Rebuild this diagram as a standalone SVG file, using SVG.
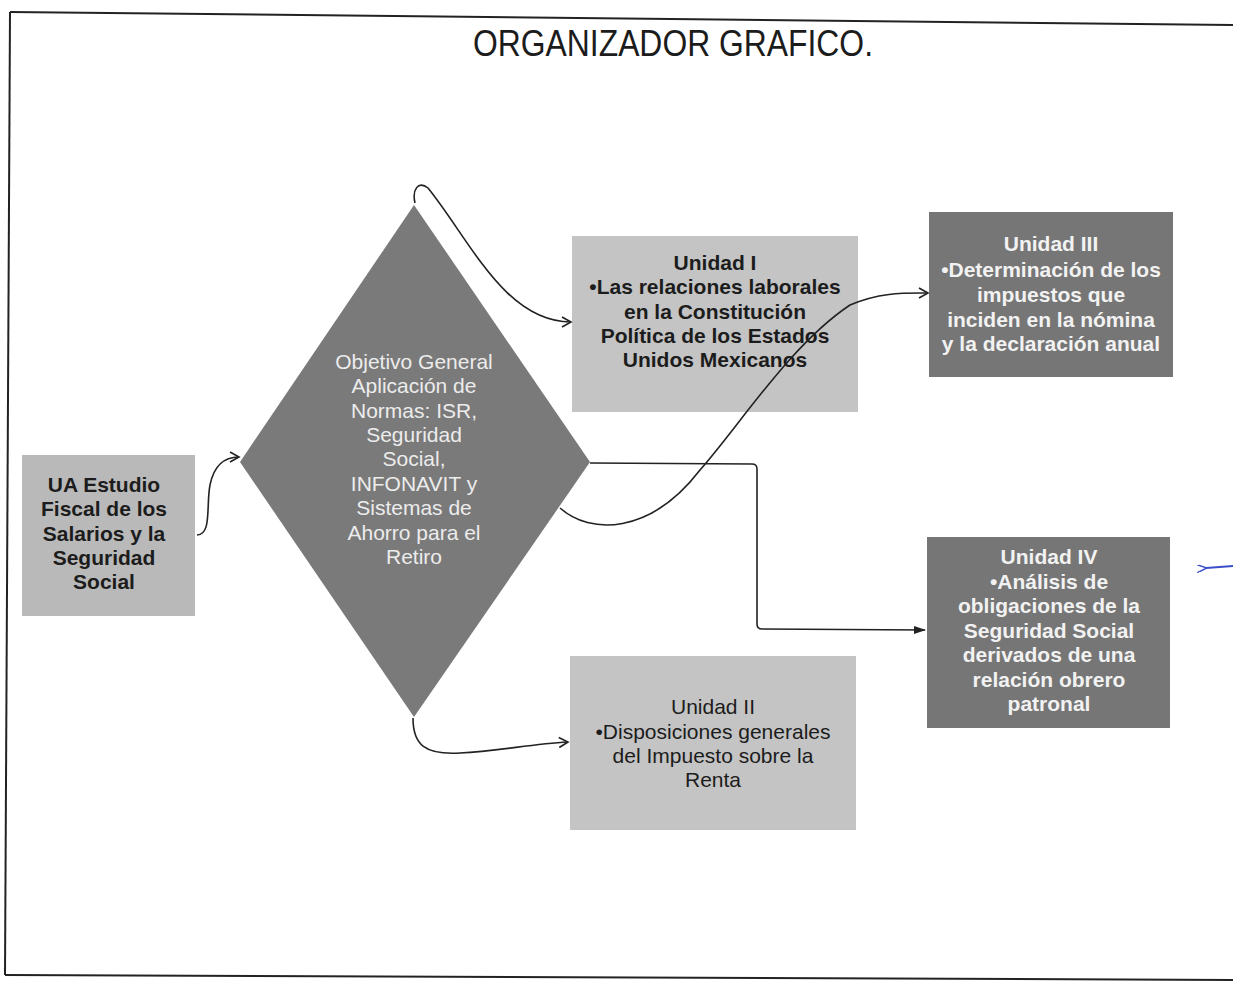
<svg xmlns="http://www.w3.org/2000/svg" width="1233" height="988" viewBox="0 0 1233 988">
<defs>
<style>
.light{fill:#c4c4c4}
.dark{fill:#767676}
.bt{font-family:"Liberation Sans",Arial,sans-serif;font-size:21px;font-weight:bold;text-anchor:middle;fill:#1c1c1c}
.wt{font-family:"Liberation Sans",Arial,sans-serif;font-size:21px;font-weight:bold;text-anchor:middle;fill:#f2f2f2}
.rt{font-family:"Liberation Sans",Arial,sans-serif;font-size:21px;text-anchor:middle;fill:#1c1c1c}
.dt{font-family:"Liberation Sans",Arial,sans-serif;font-size:21px;text-anchor:middle;fill:#ececec}
.conn{fill:none;stroke:#222;stroke-width:1.6}
</style>
<marker id="open" viewBox="0 0 12 12" refX="10" refY="6" markerWidth="12" markerHeight="12" markerUnits="userSpaceOnUse" orient="auto">
<path d="M1,1 L10,6 L1,11" fill="none" stroke="#222" stroke-width="1.6"/>
</marker>
<marker id="filled" viewBox="0 0 12 10" refX="11" refY="5" markerWidth="12" markerHeight="10" markerUnits="userSpaceOnUse" orient="auto">
<path d="M0,1 L12,5 L0,9 Z" fill="#222"/>
</marker>
<marker id="blue" viewBox="0 0 10 8" refX="1" refY="4" markerWidth="10" markerHeight="8" markerUnits="userSpaceOnUse" orient="auto">
<path d="M10,0 L0,4 L10,8" fill="none" stroke="#3a4fc8" stroke-width="1.5"/>
</marker>
</defs>
<rect width="1233" height="988" fill="#ffffff"/>
<g id="frame" fill="none" stroke="#222" stroke-width="2">
<path d="M10,12 L1233,25"/>
<path d="M10,12 L5,975"/>
<path d="M5,975 L1233,980"/>
</g>
<text id="title" x="673" y="56" font-family="'Liberation Sans',Arial,sans-serif" font-size="36" text-anchor="middle" fill="#1c1c1c" textLength="400" lengthAdjust="spacingAndGlyphs">ORGANIZADOR GRAFICO.</text>
<g id="ua">
<rect x="22" y="455" width="173" height="161" fill="#b9b9b9"/>
<text class="bt"><tspan x="104" y="492">UA Estudio</tspan><tspan x="104" y="516">Fiscal de los</tspan><tspan x="104" y="541">Salarios y la</tspan><tspan x="104" y="565">Seguridad</tspan><tspan x="104" y="589">Social</tspan></text>
</g>
<g id="objetivo">
<polygon points="414,205 590,462 414,717 240,462" fill="#7a7a7a"/>
<text class="dt"><tspan x="414" y="369">Objetivo General</tspan><tspan x="414" y="393">Aplicación de</tspan><tspan x="414" y="418">Normas: ISR,</tspan><tspan x="414" y="442">Seguridad</tspan><tspan x="414" y="466">Social,</tspan><tspan x="414" y="491">INFONAVIT y</tspan><tspan x="414" y="515">Sistemas de</tspan><tspan x="414" y="540">Ahorro para el</tspan><tspan x="414" y="564">Retiro</tspan></text>
</g>
<g id="unidad1">
<rect class="light" x="572" y="236" width="286" height="176"/>
<text class="bt"><tspan x="715" y="270">Unidad I</tspan><tspan x="715" y="294">•Las relaciones laborales</tspan><tspan x="715" y="319">en la Constitución</tspan><tspan x="715" y="343">Política de los Estados</tspan><tspan x="715" y="367">Unidos Mexicanos</tspan></text>
</g>
<g id="unidad2">
<rect class="light" x="570" y="656" width="286" height="174"/>
<text class="rt"><tspan x="713" y="714">Unidad II</tspan><tspan x="713" y="739">•Disposiciones generales</tspan><tspan x="713" y="763">del Impuesto sobre la</tspan><tspan x="713" y="787">Renta</tspan></text>
</g>
<g id="unidad3">
<rect class="dark" x="929" y="212" width="244" height="165"/>
<text class="wt"><tspan x="1051" y="251">Unidad III</tspan><tspan x="1051" y="277">•Determinación de los</tspan><tspan x="1051" y="302">impuestos que</tspan><tspan x="1051" y="327">inciden en la nómina</tspan><tspan x="1051" y="351">y la declaración anual</tspan></text>
</g>
<g id="unidad4">
<rect class="dark" x="927" y="537" width="243" height="191"/>
<text class="wt"><tspan x="1049" y="564">Unidad IV</tspan><tspan x="1049" y="589">•Análisis de</tspan><tspan x="1049" y="613">obligaciones de la</tspan><tspan x="1049" y="638">Seguridad Social</tspan><tspan x="1049" y="662">derivados de una</tspan><tspan x="1049" y="687">relación obrero</tspan><tspan x="1049" y="711">patronal</tspan></text>
</g>
<g id="connectors">
<path class="conn" d="M197,535 C212,535 206,505 210,485 C214,465 225,457 239,457" marker-end="url(#open)"/>
<path class="conn" d="M415,203 C412,190 418,180 428,188 C470,240 505,322 571,322" marker-end="url(#open)"/>
<path class="conn" d="M560,508 C590,535 650,535 700,470 C740,425 790,345 850,305 C880,292 905,293 928,293" marker-end="url(#open)"/>
<path class="conn" d="M590,463 L752,464 Q757,464 757,469 L757,624 Q757,629 762,629 L925,630" marker-end="url(#filled)"/>
<path class="conn" d="M413,718 C413,745 425,755 460,753 C500,751 530,744 568,742" marker-end="url(#open)"/>
<path d="M1233,566 L1206,568" fill="none" stroke="#3a4fc8" stroke-width="2" marker-end="url(#blue)"/>
</g>
</svg>
